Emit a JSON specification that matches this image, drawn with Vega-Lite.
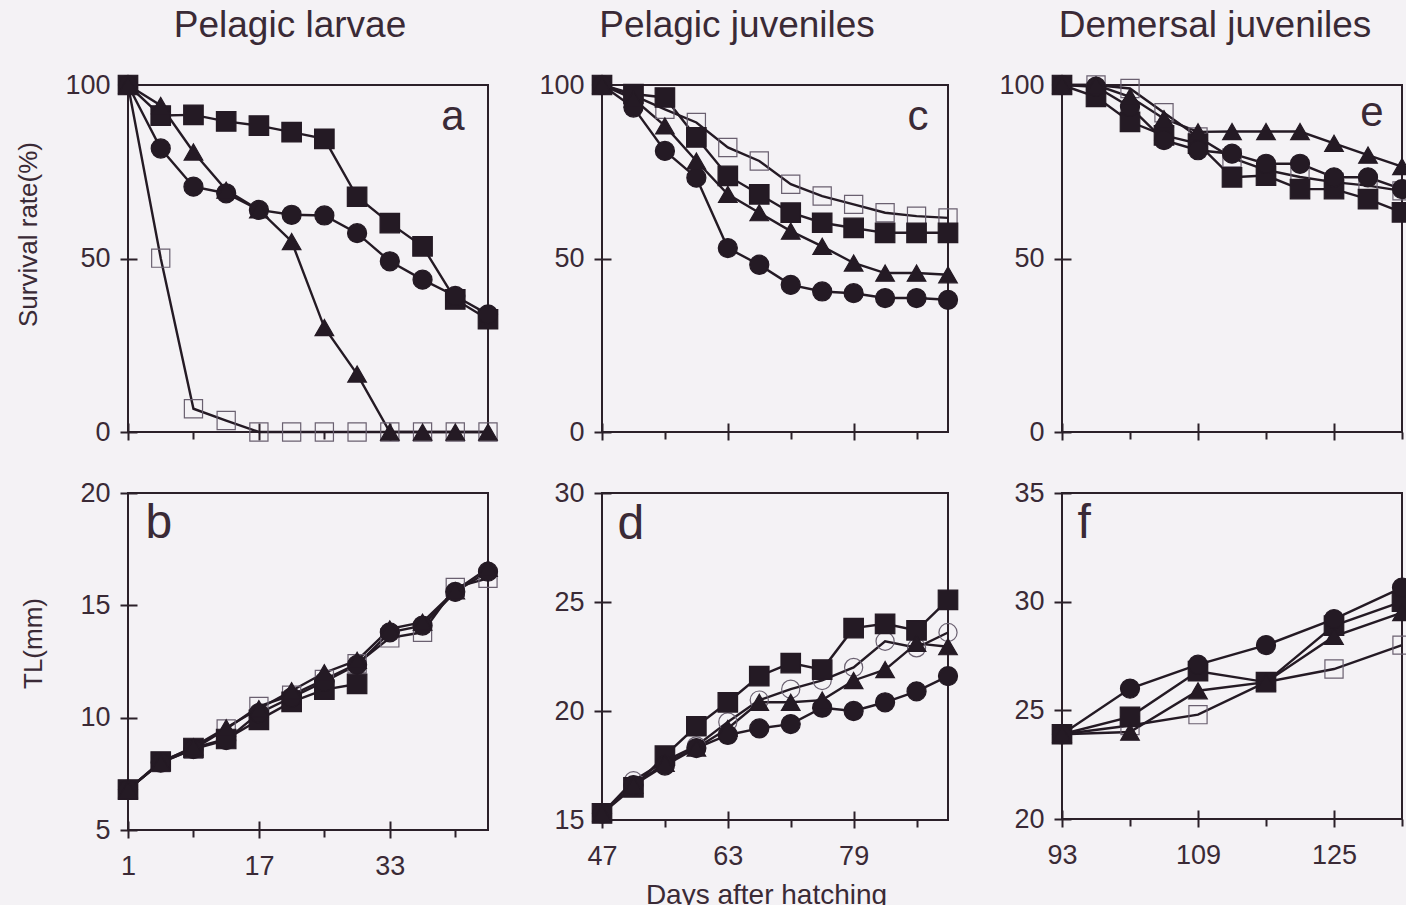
{
  "$schema": "https://vega.github.io/schema/vega-lite/v6.json",
  "background": "#f4f2f5",
  "padding": {"left": 14, "top": 6, "right": 0, "bottom": 0},
  "datasets": {
    "records": [
      {"panel":"a","group":"D","day":1,"value":100},{"panel":"a","group":"D","day":5,"value":50.1},{"panel":"a","group":"D","day":9,"value":6.7},{"panel":"a","group":"D","day":13,"value":3.3},{"panel":"a","group":"D","day":17,"value":0},{"panel":"a","group":"D","day":21,"value":0},{"panel":"a","group":"D","day":25,"value":0},{"panel":"a","group":"D","day":29,"value":0},{"panel":"a","group":"D","day":33,"value":0},{"panel":"a","group":"D","day":37,"value":0},{"panel":"a","group":"D","day":41,"value":0},{"panel":"a","group":"D","day":45,"value":0},
      {"panel":"a","group":"A","day":1,"value":100},{"panel":"a","group":"A","day":5,"value":91.2},{"panel":"a","group":"A","day":9,"value":91.4},{"panel":"a","group":"A","day":13,"value":89.5},{"panel":"a","group":"A","day":17,"value":88.3},{"panel":"a","group":"A","day":21,"value":86.4},{"panel":"a","group":"A","day":25,"value":84.5},{"panel":"a","group":"A","day":29,"value":67.8},{"panel":"a","group":"A","day":33,"value":60.2},{"panel":"a","group":"A","day":37,"value":53.5},{"panel":"a","group":"A","day":41,"value":38.2},{"panel":"a","group":"A","day":45,"value":32.5},
      {"panel":"a","group":"B","day":1,"value":100},{"panel":"a","group":"B","day":5,"value":81.7},{"panel":"a","group":"B","day":9,"value":70.7},{"panel":"a","group":"B","day":13,"value":68.8},{"panel":"a","group":"B","day":17,"value":64.0},{"panel":"a","group":"B","day":21,"value":62.6},{"panel":"a","group":"B","day":25,"value":62.4},{"panel":"a","group":"B","day":29,"value":57.3},{"panel":"a","group":"B","day":33,"value":49.2},{"panel":"a","group":"B","day":37,"value":43.9},{"panel":"a","group":"B","day":41,"value":39.2},{"panel":"a","group":"B","day":45,"value":33.9},
      {"panel":"a","group":"C","day":1,"value":100},{"panel":"a","group":"C","day":5,"value":94.1},{"panel":"a","group":"C","day":9,"value":80.7},{"panel":"a","group":"C","day":13,"value":69.7},{"panel":"a","group":"C","day":17,"value":64.0},{"panel":"a","group":"C","day":21,"value":54.9},{"panel":"a","group":"C","day":25,"value":30.1},{"panel":"a","group":"C","day":29,"value":16.7},{"panel":"a","group":"C","day":33,"value":0},{"panel":"a","group":"C","day":37,"value":0},{"panel":"a","group":"C","day":41,"value":0},{"panel":"a","group":"C","day":45,"value":0},

      {"panel":"b","group":"D","day":1,"value":6.8},{"panel":"b","group":"D","day":5,"value":8.0},{"panel":"b","group":"D","day":9,"value":8.6},{"panel":"b","group":"D","day":13,"value":9.5},{"panel":"b","group":"D","day":17,"value":10.5},{"panel":"b","group":"D","day":21,"value":11.0},{"panel":"b","group":"D","day":25,"value":11.7},{"panel":"b","group":"D","day":29,"value":12.4},{"panel":"b","group":"D","day":33,"value":13.55},{"panel":"b","group":"D","day":37,"value":13.8},{"panel":"b","group":"D","day":41,"value":15.8},{"panel":"b","group":"D","day":45,"value":16.2},
      {"panel":"b","group":"A","day":1,"value":6.8},{"panel":"b","group":"A","day":5,"value":8.05},{"panel":"b","group":"A","day":9,"value":8.65},{"panel":"b","group":"A","day":13,"value":9.05},{"panel":"b","group":"A","day":17,"value":9.9},{"panel":"b","group":"A","day":21,"value":10.7},{"panel":"b","group":"A","day":25,"value":11.25},{"panel":"b","group":"A","day":29,"value":11.5},
      {"panel":"b","group":"B","day":1,"value":6.8},{"panel":"b","group":"B","day":5,"value":8.0},{"panel":"b","group":"B","day":9,"value":8.6},{"panel":"b","group":"B","day":13,"value":9.0},{"panel":"b","group":"B","day":17,"value":10.2},{"panel":"b","group":"B","day":21,"value":10.9},{"panel":"b","group":"B","day":25,"value":11.6},{"panel":"b","group":"B","day":29,"value":12.35},{"panel":"b","group":"B","day":33,"value":13.8},{"panel":"b","group":"B","day":37,"value":14.1},{"panel":"b","group":"B","day":41,"value":15.6},{"panel":"b","group":"B","day":45,"value":16.5},
      {"panel":"b","group":"C","day":1,"value":6.8},{"panel":"b","group":"C","day":5,"value":8.0},{"panel":"b","group":"C","day":9,"value":8.7},{"panel":"b","group":"C","day":13,"value":9.55},{"panel":"b","group":"C","day":17,"value":10.4},{"panel":"b","group":"C","day":21,"value":11.2},{"panel":"b","group":"C","day":25,"value":12.0},{"panel":"b","group":"C","day":29,"value":12.55},{"panel":"b","group":"C","day":33,"value":13.95},{"panel":"b","group":"C","day":37,"value":14.25},{"panel":"b","group":"C","day":41,"value":15.65},{"panel":"b","group":"C","day":45,"value":16.65},

      {"panel":"c","group":"D","day":47,"value":100},{"panel":"c","group":"D","day":51,"value":97.0},{"panel":"c","group":"D","day":55,"value":93.0},{"panel":"c","group":"D","day":59,"value":89.2},{"panel":"c","group":"D","day":63,"value":82.0},{"panel":"c","group":"D","day":67,"value":78.1},{"panel":"c","group":"D","day":71,"value":71.4},{"panel":"c","group":"D","day":75,"value":68.0},{"panel":"c","group":"D","day":79,"value":65.6},{"panel":"c","group":"D","day":83,"value":63.2},{"panel":"c","group":"D","day":87,"value":62.2},{"panel":"c","group":"D","day":91,"value":61.7},
      {"panel":"c","group":"A","day":47,"value":100},{"panel":"c","group":"A","day":51,"value":97.4},{"panel":"c","group":"A","day":55,"value":96.4},{"panel":"c","group":"A","day":59,"value":84.9},{"panel":"c","group":"A","day":63,"value":73.8},{"panel":"c","group":"A","day":67,"value":68.5},{"panel":"c","group":"A","day":71,"value":63.2},{"panel":"c","group":"A","day":75,"value":60.3},{"panel":"c","group":"A","day":79,"value":58.8},{"panel":"c","group":"A","day":83,"value":57.4},{"panel":"c","group":"A","day":87,"value":57.4},{"panel":"c","group":"A","day":91,"value":57.4},
      {"panel":"c","group":"B","day":47,"value":100},{"panel":"c","group":"B","day":51,"value":93.5},{"panel":"c","group":"B","day":55,"value":81.0},{"panel":"c","group":"B","day":59,"value":73.3},{"panel":"c","group":"B","day":63,"value":53.0},{"panel":"c","group":"B","day":67,"value":48.2},{"panel":"c","group":"B","day":71,"value":42.4},{"panel":"c","group":"B","day":75,"value":40.5},{"panel":"c","group":"B","day":79,"value":40.0},{"panel":"c","group":"B","day":83,"value":38.6},{"panel":"c","group":"B","day":87,"value":38.6},{"panel":"c","group":"B","day":91,"value":38.1},
      {"panel":"c","group":"C","day":47,"value":100},{"panel":"c","group":"C","day":51,"value":96.0},{"panel":"c","group":"C","day":55,"value":88.2},{"panel":"c","group":"C","day":59,"value":78.1},{"panel":"c","group":"C","day":63,"value":68.5},{"panel":"c","group":"C","day":67,"value":63.2},{"panel":"c","group":"C","day":71,"value":57.9},{"panel":"c","group":"C","day":75,"value":53.5},{"panel":"c","group":"C","day":79,"value":48.7},{"panel":"c","group":"C","day":83,"value":45.8},{"panel":"c","group":"C","day":87,"value":45.8},{"panel":"c","group":"C","day":91,"value":45.3},

      {"panel":"d","group":"D","day":47,"value":15.3},{"panel":"d","group":"D","day":51,"value":16.8},{"panel":"d","group":"D","day":55,"value":17.7},{"panel":"d","group":"D","day":59,"value":18.4},{"panel":"d","group":"D","day":63,"value":19.5},{"panel":"d","group":"D","day":67,"value":20.5},{"panel":"d","group":"D","day":71,"value":21.0},{"panel":"d","group":"D","day":75,"value":21.4},{"panel":"d","group":"D","day":79,"value":22.0},{"panel":"d","group":"D","day":83,"value":23.2},{"panel":"d","group":"D","day":87,"value":22.9},{"panel":"d","group":"D","day":91,"value":23.6},
      {"panel":"d","group":"A","day":47,"value":15.3},{"panel":"d","group":"A","day":51,"value":16.5},{"panel":"d","group":"A","day":55,"value":17.95},{"panel":"d","group":"A","day":59,"value":19.3},{"panel":"d","group":"A","day":63,"value":20.4},{"panel":"d","group":"A","day":67,"value":21.6},{"panel":"d","group":"A","day":71,"value":22.2},{"panel":"d","group":"A","day":75,"value":21.9},{"panel":"d","group":"A","day":79,"value":23.8},{"panel":"d","group":"A","day":83,"value":24.0},{"panel":"d","group":"A","day":87,"value":23.7},{"panel":"d","group":"A","day":91,"value":25.1},
      {"panel":"d","group":"B","day":47,"value":15.3},{"panel":"d","group":"B","day":51,"value":16.6},{"panel":"d","group":"B","day":55,"value":17.5},{"panel":"d","group":"B","day":59,"value":18.3},{"panel":"d","group":"B","day":63,"value":18.9},{"panel":"d","group":"B","day":67,"value":19.2},{"panel":"d","group":"B","day":71,"value":19.4},{"panel":"d","group":"B","day":75,"value":20.15},{"panel":"d","group":"B","day":79,"value":20.0},{"panel":"d","group":"B","day":83,"value":20.4},{"panel":"d","group":"B","day":87,"value":20.9},{"panel":"d","group":"B","day":91,"value":21.6},
      {"panel":"d","group":"C","day":47,"value":15.3},{"panel":"d","group":"C","day":51,"value":16.6},{"panel":"d","group":"C","day":55,"value":17.6},{"panel":"d","group":"C","day":59,"value":18.3},{"panel":"d","group":"C","day":63,"value":19.2},{"panel":"d","group":"C","day":67,"value":20.4},{"panel":"d","group":"C","day":71,"value":20.4},{"panel":"d","group":"C","day":75,"value":20.5},{"panel":"d","group":"C","day":79,"value":21.4},{"panel":"d","group":"C","day":83,"value":21.9},{"panel":"d","group":"C","day":87,"value":23.1},{"panel":"d","group":"C","day":91,"value":22.95},

      {"panel":"e","group":"D","day":93,"value":100},{"panel":"e","group":"D","day":97,"value":100},{"panel":"e","group":"D","day":101,"value":99.0},{"panel":"e","group":"D","day":105,"value":92.0},{"panel":"e","group":"D","day":109,"value":85.0},{"panel":"e","group":"D","day":113,"value":79.0},{"panel":"e","group":"D","day":117,"value":75.5},{"panel":"e","group":"D","day":121,"value":73.5},{"panel":"e","group":"D","day":125,"value":72.0},{"panel":"e","group":"D","day":129,"value":71.0},{"panel":"e","group":"D","day":133,"value":69.5},
      {"panel":"e","group":"A","day":93,"value":100},{"panel":"e","group":"A","day":97,"value":96.6},{"panel":"e","group":"A","day":101,"value":89.4},{"panel":"e","group":"A","day":105,"value":85.5},{"panel":"e","group":"A","day":109,"value":83.1},{"panel":"e","group":"A","day":113,"value":73.4},{"panel":"e","group":"A","day":117,"value":73.9},{"panel":"e","group":"A","day":121,"value":70.0},{"panel":"e","group":"A","day":125,"value":70.0},{"panel":"e","group":"A","day":129,"value":67.1},{"panel":"e","group":"A","day":133,"value":63.3},
      {"panel":"e","group":"B","day":93,"value":100},{"panel":"e","group":"B","day":97,"value":99.5},{"panel":"e","group":"B","day":101,"value":93.7},{"panel":"e","group":"B","day":105,"value":84.1},{"panel":"e","group":"B","day":109,"value":81.2},{"panel":"e","group":"B","day":113,"value":80.2},{"panel":"e","group":"B","day":117,"value":77.3},{"panel":"e","group":"B","day":121,"value":77.3},{"panel":"e","group":"B","day":125,"value":73.4},{"panel":"e","group":"B","day":129,"value":73.4},{"panel":"e","group":"B","day":133,"value":70.0},
      {"panel":"e","group":"C","day":93,"value":100},{"panel":"e","group":"C","day":97,"value":100},{"panel":"e","group":"C","day":101,"value":96.6},{"panel":"e","group":"C","day":105,"value":90.3},{"panel":"e","group":"C","day":109,"value":86.5},{"panel":"e","group":"C","day":113,"value":86.6},{"panel":"e","group":"C","day":117,"value":86.6},{"panel":"e","group":"C","day":121,"value":86.6},{"panel":"e","group":"C","day":125,"value":83.2},{"panel":"e","group":"C","day":129,"value":79.8},{"panel":"e","group":"C","day":133,"value":76.5},

      {"panel":"f","group":"D","day":93,"value":23.9},{"panel":"f","group":"D","day":101,"value":24.3},{"panel":"f","group":"D","day":109,"value":24.8},{"panel":"f","group":"D","day":117,"value":26.3},{"panel":"f","group":"D","day":125,"value":26.9},{"panel":"f","group":"D","day":133,"value":28.0},
      {"panel":"f","group":"A","day":93,"value":23.9},{"panel":"f","group":"A","day":101,"value":24.7},{"panel":"f","group":"A","day":109,"value":26.8},{"panel":"f","group":"A","day":117,"value":26.3},{"panel":"f","group":"A","day":125,"value":28.9},{"panel":"f","group":"A","day":133,"value":30.0},
      {"panel":"f","group":"B","day":93,"value":23.9},{"panel":"f","group":"B","day":101,"value":26.0},{"panel":"f","group":"B","day":109,"value":27.1},{"panel":"f","group":"B","day":117,"value":28.0},{"panel":"f","group":"B","day":125,"value":29.2},{"panel":"f","group":"B","day":133,"value":30.65},
      {"panel":"f","group":"C","day":93,"value":23.9},{"panel":"f","group":"C","day":101,"value":24.0},{"panel":"f","group":"C","day":109,"value":25.9},{"panel":"f","group":"C","day":117,"value":26.3},{"panel":"f","group":"C","day":125,"value":28.4},{"panel":"f","group":"C","day":133,"value":29.5}
    ]
  },
  "data": {"name": "records"},
  "columns": 3,
  "align": "each",
  "bounds": "flush",
  "spacing": {"row": 61, "column": 114},
  "resolve": {"scale": {"shape": "independent"}},
  "concat": [
    {
      "width": 360, "height": 347,
      "title": {"text": "Pelagic larvae", "anchor": "middle", "frame": "group", "dx": -18, "offset": -3, "baseline": "alphabetic", "fontSize": 37},
      "transform": [{"filter": "datum.panel === 'a'"}],
      "encoding": {
        "y": {"field": "value", "type": "quantitative", "scale": {"domain": [0, 100], "nice": false},
              "axis": {"values": [0, 50, 100], "offset": -9, "tickSize": 17, "labelPadding": 10, "title": "Survival rate(%)", "titleAngle": 270, "titleAlign": "center", "titleBaseline": "middle", "titleX": -109, "titleY": 149}}
      },
      "layer": [
        {"mark": {"type": "line", "color": "#241a24"},
         "encoding": {
           "x": {"field": "day", "type": "quantitative", "scale": {"domain": [1, 45], "nice": false}, "axis": {"values": [1, 17, 33], "labels": false, "offset": -9, "tickSize": 17, "title": null}},
           "detail": {"field": "group"},
           "strokeWidth": {"field": "group", "type": "nominal", "scale": {"domain": ["A", "B", "C", "D"], "range": [2.4, 2.4, 2.4, 1.4]}, "legend": null}}},
        {"mark": {"type": "point", "filled": true, "strokeWidth": 1.2, "opacity": 1},
         "encoding": {
           "x": {"field": "day", "type": "quantitative", "scale": {"domain": [1, 45], "nice": false}, "axis": {"values": [9, 25, 41], "labels": false, "tickSize": 7, "orient": "bottom", "title": "a", "titleFontSize": 42, "titleAlign": "right", "titleBaseline": "alphabetic", "titleX": 336, "titleY": -303}},
           "shape": {"field": "group", "type": "nominal", "scale": {"domain": ["A", "B", "C", "D"], "range": ["square", "circle", "triangle-up", "square"]}, "legend": null},
           "fill": {"field": "group", "type": "nominal", "scale": {"domain": ["A", "B", "C", "D"], "range": ["#241a24", "#241a24", "#241a24", "transparent"]}, "legend": null},
           "stroke": {"field": "group", "type": "nominal", "scale": {"domain": ["A", "B", "C", "D"], "range": ["#241a24", "#241a24", "#241a24", "#6a6070"]}, "legend": null},
           "size": {"field": "group", "type": "ordinal", "scale": {"domain": ["A", "B", "C", "D"], "range": [380, 330, 380, 280]}, "legend": null}}}
      ],
      "resolve": {"axis": {"x": "independent"}}
    },
    {
      "width": 346, "height": 347,
      "title": {"text": "Pelagic juveniles", "anchor": "middle", "frame": "group", "dx": -38, "offset": -3, "baseline": "alphabetic", "fontSize": 37},
      "transform": [{"filter": "datum.panel === 'c'"}],
      "encoding": {
        "y": {"field": "value", "type": "quantitative", "scale": {"domain": [0, 100], "nice": false},
              "axis": {"values": [0, 50, 100], "offset": -9, "tickSize": 17, "labelPadding": 10, "title": null}}
      },
      "layer": [
        {"mark": {"type": "line", "color": "#241a24"},
         "encoding": {
           "x": {"field": "day", "type": "quantitative", "scale": {"domain": [47, 91], "nice": false}, "axis": {"values": [47, 63, 79], "labels": false, "offset": -9, "tickSize": 17, "title": null}},
           "detail": {"field": "group"},
           "strokeWidth": {"field": "group", "type": "nominal", "scale": {"domain": ["A", "B", "C", "D"], "range": [2.4, 2.4, 2.4, 1.4]}, "legend": null}}},
        {"mark": {"type": "point", "filled": true, "strokeWidth": 1.2, "opacity": 1},
         "encoding": {
           "x": {"field": "day", "type": "quantitative", "scale": {"domain": [47, 91], "nice": false}, "axis": {"values": [55, 71, 87], "labels": false, "tickSize": 7, "orient": "bottom", "title": "c", "titleFontSize": 42, "titleAlign": "right", "titleBaseline": "alphabetic", "titleX": 326, "titleY": -303}},
           "shape": {"field": "group", "type": "nominal", "scale": {"domain": ["A", "B", "C", "D"], "range": ["square", "circle", "triangle-up", "square"]}, "legend": null},
           "fill": {"field": "group", "type": "nominal", "scale": {"domain": ["A", "B", "C", "D"], "range": ["#241a24", "#241a24", "#241a24", "transparent"]}, "legend": null},
           "stroke": {"field": "group", "type": "nominal", "scale": {"domain": ["A", "B", "C", "D"], "range": ["#241a24", "#241a24", "#241a24", "#6a6070"]}, "legend": null},
           "size": {"field": "group", "type": "ordinal", "scale": {"domain": ["A", "B", "C", "D"], "range": [380, 330, 380, 280]}, "legend": null}}}
      ],
      "resolve": {"axis": {"x": "independent"}}
    },
    {
      "width": 340, "height": 347,
      "title": {"text": "Demersal juveniles", "anchor": "middle", "frame": "group", "dx": -17, "offset": -3, "baseline": "alphabetic", "fontSize": 37},
      "transform": [{"filter": "datum.panel === 'e'"}],
      "encoding": {
        "y": {"field": "value", "type": "quantitative", "scale": {"domain": [0, 100], "nice": false},
              "axis": {"values": [0, 50, 100], "offset": -9, "tickSize": 17, "labelPadding": 10, "title": null}}
      },
      "layer": [
        {"mark": {"type": "line", "color": "#241a24"},
         "encoding": {
           "x": {"field": "day", "type": "quantitative", "scale": {"domain": [93, 133], "nice": false}, "axis": {"values": [93, 109, 125], "labels": false, "offset": -9, "tickSize": 17, "title": null}},
           "detail": {"field": "group"},
           "strokeWidth": {"field": "group", "type": "nominal", "scale": {"domain": ["A", "B", "C", "D"], "range": [2.4, 2.4, 2.4, 1.4]}, "legend": null}}},
        {"mark": {"type": "point", "filled": true, "strokeWidth": 1.2, "opacity": 1},
         "encoding": {
           "x": {"field": "day", "type": "quantitative", "scale": {"domain": [93, 133], "nice": false}, "axis": {"values": [101, 117, 133], "labels": false, "tickSize": 7, "orient": "bottom", "title": "e", "titleFontSize": 42, "titleAlign": "right", "titleBaseline": "alphabetic", "titleX": 321, "titleY": -307}},
           "shape": {"field": "group", "type": "nominal", "scale": {"domain": ["A", "B", "C", "D"], "range": ["square", "circle", "triangle-up", "square"]}, "legend": null},
           "fill": {"field": "group", "type": "nominal", "scale": {"domain": ["A", "B", "C", "D"], "range": ["#241a24", "#241a24", "#241a24", "transparent"]}, "legend": null},
           "stroke": {"field": "group", "type": "nominal", "scale": {"domain": ["A", "B", "C", "D"], "range": ["#241a24", "#241a24", "#241a24", "#6a6070"]}, "legend": null},
           "size": {"field": "group", "type": "ordinal", "scale": {"domain": ["A", "B", "C", "D"], "range": [380, 330, 380, 280]}, "legend": null}}}
      ],
      "resolve": {"axis": {"x": "independent"}}
    },
    {
      "width": 360, "height": 337,
      "transform": [{"filter": "datum.panel === 'b'"}],
      "encoding": {
        "y": {"field": "value", "type": "quantitative", "scale": {"domain": [5, 20], "nice": false},
              "axis": {"values": [5, 10, 15, 20], "offset": -9, "tickSize": 17, "labelPadding": 10, "title": "TL(mm)", "titleAngle": 270, "titleAlign": "center", "titleBaseline": "middle", "titleX": -104, "titleY": 150}}
      },
      "layer": [
        {"mark": {"type": "line", "color": "#241a24"},
         "encoding": {
           "x": {"field": "day", "type": "quantitative", "scale": {"domain": [1, 45], "nice": false}, "axis": {"values": [1, 17, 33], "offset": -9, "tickSize": 17, "labelPadding": 15, "title": null}},
           "detail": {"field": "group"},
           "strokeWidth": {"field": "group", "type": "nominal", "scale": {"domain": ["A", "B", "C", "D"], "range": [2.4, 2.4, 2.4, 1.4]}, "legend": null}}},
        {"mark": {"type": "point", "filled": true, "strokeWidth": 1.2, "opacity": 1},
         "encoding": {
           "x": {"field": "day", "type": "quantitative", "scale": {"domain": [1, 45], "nice": false}, "axis": {"values": [9, 25, 41], "labels": false, "tickSize": 7, "orient": "bottom", "title": "b", "titleFontSize": 48, "titleAlign": "left", "titleBaseline": "alphabetic", "titleX": 17, "titleY": -293}},
           "shape": {"field": "group", "type": "nominal", "scale": {"domain": ["A", "B", "C", "D"], "range": ["square", "circle", "triangle-up", "square"]}, "legend": null},
           "fill": {"field": "group", "type": "nominal", "scale": {"domain": ["A", "B", "C", "D"], "range": ["#241a24", "#241a24", "#241a24", "transparent"]}, "legend": null},
           "stroke": {"field": "group", "type": "nominal", "scale": {"domain": ["A", "B", "C", "D"], "range": ["#241a24", "#241a24", "#241a24", "#6a6070"]}, "legend": null},
           "size": {"field": "group", "type": "ordinal", "scale": {"domain": ["A", "B", "C", "D"], "range": [380, 330, 380, 280]}, "legend": null}}}
      ],
      "resolve": {"axis": {"x": "independent"}}
    },
    {
      "width": 346, "height": 327,
      "transform": [{"filter": "datum.panel === 'd'"}],
      "encoding": {
        "y": {"field": "value", "type": "quantitative", "scale": {"domain": [15, 30], "nice": false},
              "axis": {"values": [15, 20, 25, 30], "offset": -9, "tickSize": 17, "labelPadding": 10, "title": null}}
      },
      "layer": [
        {"mark": {"type": "line", "color": "#241a24"},
         "encoding": {
           "x": {"field": "day", "type": "quantitative", "scale": {"domain": [47, 91], "nice": false}, "axis": {"values": [47, 63, 79], "offset": -9, "tickSize": 17, "labelPadding": 15, "title": "Days after hatching", "titleX": 164, "titleY": 92, "titleAlign": "center", "titleBaseline": "alphabetic", "titleFontSize": 28}},
           "detail": {"field": "group"},
           "strokeWidth": {"field": "group", "type": "nominal", "scale": {"domain": ["A", "B", "C", "D"], "range": [2.4, 2.4, 2.4, 1.4]}, "legend": null}}},
        {"mark": {"type": "point", "filled": true, "strokeWidth": 1.2, "opacity": 1},
         "encoding": {
           "x": {"field": "day", "type": "quantitative", "scale": {"domain": [47, 91], "nice": false}, "axis": {"values": [55, 71, 87], "labels": false, "tickSize": 7, "orient": "bottom", "title": "d", "titleFontSize": 48, "titleAlign": "left", "titleBaseline": "alphabetic", "titleX": 15, "titleY": -282}},
           "shape": {"field": "group", "type": "nominal", "scale": {"domain": ["A", "B", "C", "D"], "range": ["square", "circle", "triangle-up", "circle"]}, "legend": null},
           "fill": {"field": "group", "type": "nominal", "scale": {"domain": ["A", "B", "C", "D"], "range": ["#241a24", "#241a24", "#241a24", "transparent"]}, "legend": null},
           "stroke": {"field": "group", "type": "nominal", "scale": {"domain": ["A", "B", "C", "D"], "range": ["#241a24", "#241a24", "#241a24", "#6a6070"]}, "legend": null},
           "size": {"field": "group", "type": "ordinal", "scale": {"domain": ["A", "B", "C", "D"], "range": [380, 330, 380, 280]}, "legend": null}}}
      ],
      "resolve": {"axis": {"x": "independent"}}
    },
    {
      "width": 340, "height": 326,
      "transform": [{"filter": "datum.panel === 'f'"}],
      "encoding": {
        "y": {"field": "value", "type": "quantitative", "scale": {"domain": [20, 35], "nice": false},
              "axis": {"values": [20, 25, 30, 35], "offset": -9, "tickSize": 17, "labelPadding": 10, "title": null}}
      },
      "layer": [
        {"mark": {"type": "line", "color": "#241a24"},
         "encoding": {
           "x": {"field": "day", "type": "quantitative", "scale": {"domain": [93, 133], "nice": false}, "axis": {"values": [93, 109, 125], "offset": -9, "tickSize": 17, "labelPadding": 15, "title": null}},
           "detail": {"field": "group"},
           "strokeWidth": {"field": "group", "type": "nominal", "scale": {"domain": ["A", "B", "C", "D"], "range": [2.4, 2.4, 2.4, 1.4]}, "legend": null}}},
        {"mark": {"type": "point", "filled": true, "strokeWidth": 1.2, "opacity": 1},
         "encoding": {
           "x": {"field": "day", "type": "quantitative", "scale": {"domain": [93, 133], "nice": false}, "axis": {"values": [101, 117, 133], "labels": false, "tickSize": 7, "orient": "bottom", "title": "f", "titleFontSize": 48, "titleAlign": "left", "titleBaseline": "alphabetic", "titleX": 15, "titleY": -282}},
           "shape": {"field": "group", "type": "nominal", "scale": {"domain": ["A", "B", "C", "D"], "range": ["square", "circle", "triangle-up", "square"]}, "legend": null},
           "fill": {"field": "group", "type": "nominal", "scale": {"domain": ["A", "B", "C", "D"], "range": ["#241a24", "#241a24", "#241a24", "transparent"]}, "legend": null},
           "stroke": {"field": "group", "type": "nominal", "scale": {"domain": ["A", "B", "C", "D"], "range": ["#241a24", "#241a24", "#241a24", "#6a6070"]}, "legend": null},
           "size": {"field": "group", "type": "ordinal", "scale": {"domain": ["A", "B", "C", "D"], "range": [380, 330, 380, 280]}, "legend": null}}}
      ],
      "resolve": {"axis": {"x": "independent"}}
    }
  ],
  "config": {
    "font": "Liberation Sans",
    "view": {"stroke": "#2b2029", "strokeWidth": 2},
    "axis": {
      "domain": false, "grid": false,
      "tickColor": "#2b2029", "tickWidth": 2,
      "labelColor": "#3a2a36", "labelFont": "Liberation Sans", "labelFontSize": 27,
      "labelFlush": false, "labelOverlap": false, "labelBound": false,
      "titleColor": "#3a2a36", "titleFont": "Liberation Sans", "titleFontSize": 26, "titleFontWeight": "normal"
    },
    "title": {"font": "Liberation Sans", "fontWeight": "normal", "color": "#3a2a36"}
  }
}
